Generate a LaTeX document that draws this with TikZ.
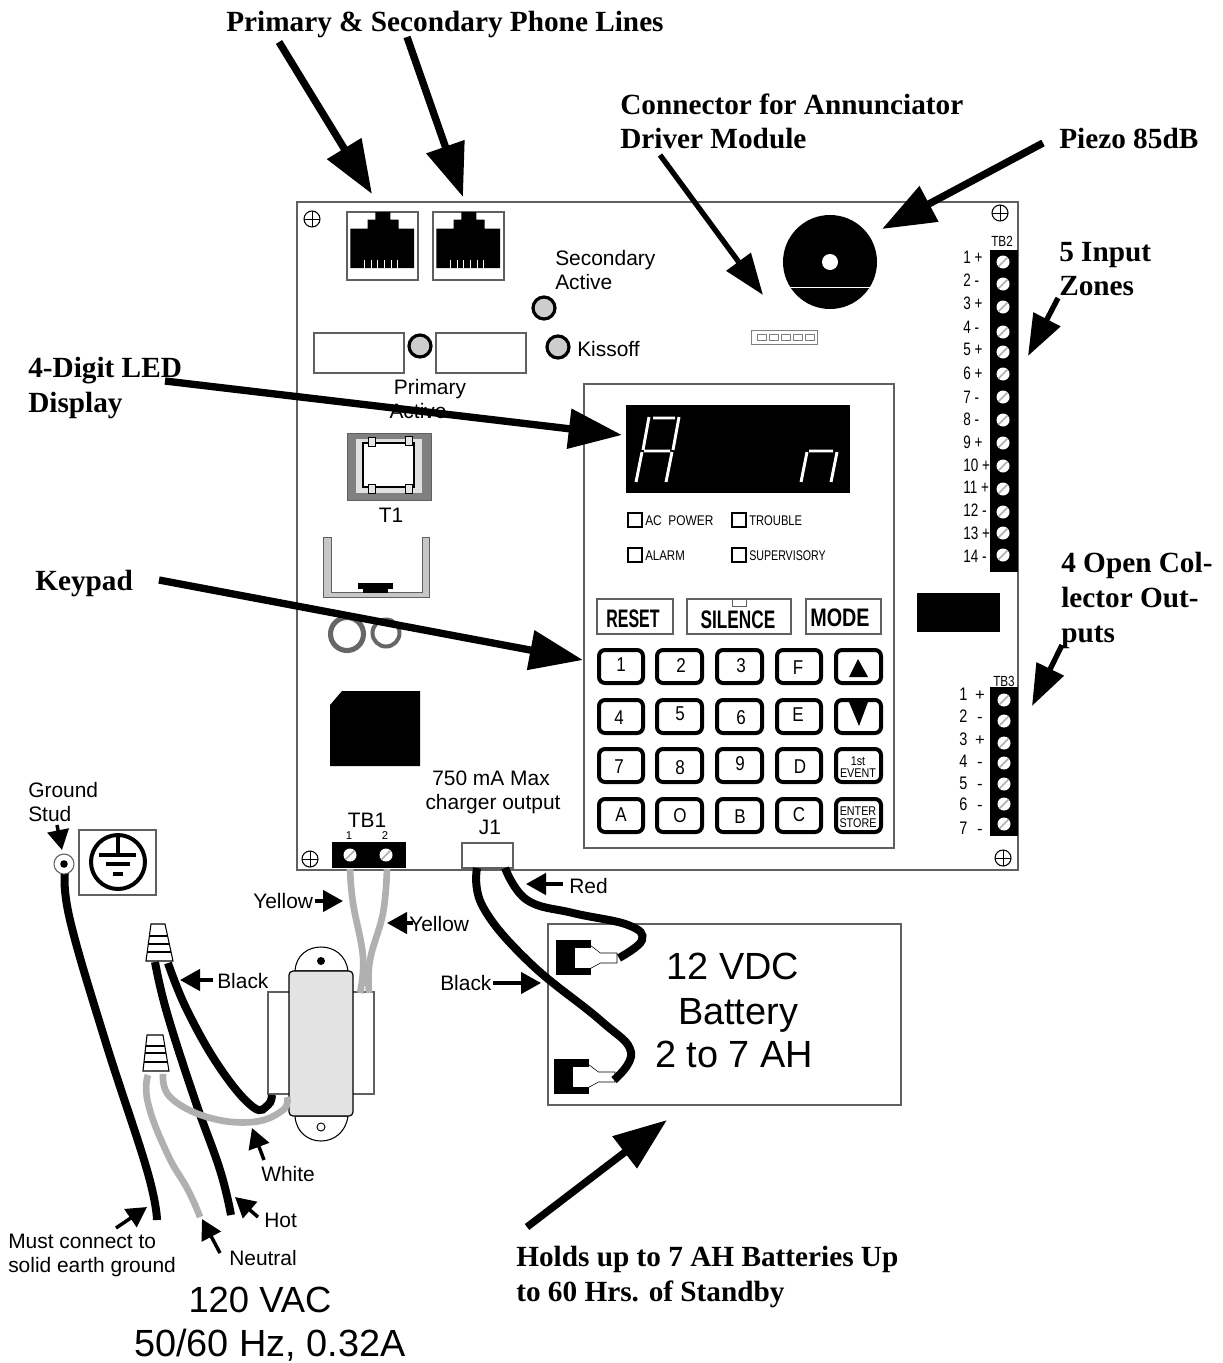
\documentclass[tikz,border=0pt]{standalone}
\usepackage{fontspec}
\usepackage{graphicx}
\setmainfont{Liberation Sans}
\newfontfamily\tmb{Liberation Serif}
\usetikzlibrary{arrows.meta,calc}
\definecolor{ln}{HTML}{606060}
\definecolor{wiregray}{HTML}{B0B0B0}
\definecolor{ledgray}{HTML}{CDCDCD}
\tikzset{
 tl/.style={font=\tmb\bfseries\fontsize{21.95}{26}\selectfont,anchor=base west,inner sep=0pt},
 sl/.style={font=\fontsize{15.7}{19}\selectfont,anchor=base west,inner sep=0pt},
 sc/.style={font=\fontsize{15.7}{19}\selectfont,anchor=base,inner sep=0pt},
 bigl/.style={font=\fontsize{28.4}{34}\selectfont,anchor=base,inner sep=0pt},
 tiny/.style={font=\fontsize{8.5}{10}\selectfont,anchor=base,inner sep=0pt},
 keyl/.style={font=\fontsize{15}{18}\selectfont,anchor=center,inner sep=0pt},
 bar/.style={line width=.85pt,draw=ln,fill=white},
 bigarrow/.style={line width=5.5pt,-{Triangle[length=40pt,width=29pt]}},
 midarrow/.style={line width=4pt,-{Triangle[length=31pt,width=22pt]}},
 smallarrow/.style={line width=2.6pt,-{Triangle[length=15pt,width=16pt]}},
 blackwire/.style={line width=6pt,black},
 graywire/.style={line width=5pt,wiregray},
 keybox/.style={line width=3pt,draw=black,rounded corners=4.5pt,fill=white},
 led/.style={line width=2.4pt,draw=black,fill=ledgray},
 seg/.style={line width=2.2pt,white},
}
\newcommand{\conn}[4]{\coordinate (#1-a) at (#2);\coordinate (#1-b) at (#3);\draw[#4] (#1-a) -- (#1-b);}
\newcommand{\cross}[2]{\draw[line width=.8pt,black] (#1,#2) circle (8);\draw[line width=.7pt,black] (#1-8,#2) -- (#1+8,#2) (#1,#2-8) -- (#1,#2+8);}
\newcommand{\screw}[2]{\fill[white] (#1,#2) circle (6.5);\draw[line width=1.2pt,wiregray] (#1-4.5,#2+4.5) -- (#1+4.5,#2-4.5);}
\newcommand{\jack}[2]{\begin{scope}[shift={(#1,#2)}]
 \draw[bar] (0,0) rectangle (71,68);
 \fill[black] (3.3,56) -- (3.3,16.7) -- (20.7,16.7) -- (20.7,7.7) -- (28.3,7.7) -- (28.3,0) -- (43.3,0) -- (43.3,7.7) -- (51.7,7.7) -- (51.7,16.7) -- (67,16.7) -- (67,56) -- cycle;
 \foreach \q in {17.3,24,30.7,37.3,44,50.7}{\draw[line width=.6pt,white] (\q,48) -- (\q,56);}
\end{scope}}
\newcommand{\cone}[9]{\draw[line width=.8pt,black,fill=white] (#1,#2) -- (#3,#2) -- (#4,#5) -- (#6,#5) -- cycle;
 \foreach \s in {#7,#8,#9}{\draw[line width=.8pt,black] ({#1-(#1-#6)*(\s-#2)/(#5-#2)},\s) -- ({#3+(#4-#3)*(\s-#2)/(#5-#2)},\s);}}
\newcommand{\terminal}[2]{\begin{scope}[shift={(#1,#2)}]
 \fill[black] (0,0) rectangle (35,35);
 \draw[line width=.7pt,black,fill=white] (35,6) -- (44,13) -- (61,13) -- (61,23) -- (44,23) -- (35,28);
 \fill[white] (19,8) rectangle (35.3,28);
 \fill[white] (35,6.4) -- (44,13.3) -- (44,22.7) -- (35,27.6) -- cycle;
\end{scope}}
\begin{document}
\begin{tikzpicture}[x=0.75pt,y=-0.75pt]
\useasboundingbox (0,0) rectangle (1223,1363);
\fill[white] (0,0) rectangle (1223,1363);
% board
\draw[line width=1pt,draw=ln] (297,202) rectangle (1018,870);
\cross{312}{219}\cross{1000}{213}\cross{310}{859}\cross{1003}{858}
\jack{347}{212}\jack{433}{212}
\draw[bar] (314,333) rectangle (404,373);
\draw[bar] (436,333) rectangle (526,373);
\draw[led] (544,308) circle (11);
\draw[led] (420,346) circle (11);
\draw[led] (558,347) circle (11);
\node[sl] (sec1) at (555,265) {Secondary};
\node[sl] (sec2) at (555,289) {Active};
\node[sl] (kiss) at (577,356) {Kissoff};
\node[sc] (prim1) at (430,394) {Primary};
\node[sc] (prim2) at (418,418) {Active};
% T1
\fill[black!50,draw=ln] (347,433) rectangle (431,500);
\fill[black!12] (356,439) rectangle (422,493);
\draw[line width=.8pt,black,fill=white] (363,443) rectangle (414,487);
\foreach \a/\b in {368/437,405/436,368/484,405/484}{\draw[line width=.6pt,black,fill=black!10] (\a,\b) rectangle (\a+7,\b+9);}
\node[sc] (t1) at (391,522) {T1};
% holder
\fill[black!22,draw=ln,line width=.7pt] (323,537) -- (331,537) -- (331,592) -- (422,592) -- (422,537) -- (429,537) -- (429,597) -- (323,597) -- cycle;
\draw[line width=.6pt,fill=white,black] (363,589) rectangle (387,592);
\fill[black] (358,583) rectangle (393,589);
\draw[line width=3.8pt,black!60] (347,634) circle (16.5);
\draw[line width=3pt,black!60] (386,633) circle (13.5);
\fill[black] (342,691) -- (420,691) -- (420,766) -- (330,766) -- (330,705) -- cycle;
% TB1, J1
\fill[black] (332,842) rectangle (406,868);
\screw{350}{855}\screw{386}{855}
\node[sc] (tb1) at (367,827) {TB1};
\node[tiny] (tb1a) at (349,839) {1};
\node[tiny] (tb1b) at (385,839) {2};
\draw[bar] (462,843) rectangle (513,868);
\node[sc] (ch1) at (491,785) {750 mA Max};
\node[sc] (ch2) at (493,809) {charger output};
\node[sc] (j1) at (490,834) {J1};
% piezo
\fill[black] (830,262) circle (47);
\fill[white] (830,262) circle (8);
\draw[line width=.6pt,white] (788,287) -- (872,287);
% annunciator connector
\draw[line width=.6pt,black!50] (751,330) rectangle (817,344);
\foreach \q in {757,769,781,793,805}{\draw[line width=.5pt,black!50] (\q,334) rectangle (\q+9,340);}
% black block
\fill[black] (917,593) rectangle (1000,632);
% TB2
\fill[black] (990,250) rectangle (1018,572);
\node[font=\fontsize{11}{13}\selectfont,anchor=base,inner sep=0pt] (tb2) at (1002,246) {\scalebox{.8}[1]{TB2}};
\foreach \y/\z/\t [count=\n] in {262/263/1 +,284/286/2 -,307/309/3 +,332/333/4 -,352/355/5 +,374/379/6 +,397/403/7 -,420/425/8 -,443/448/9 +,466/471/10 +,489/493/11 +,512/516/12 -,533/539/13 +,555/562/14 -}{
 \screw{1003}{\y}
 \node[font=\fontsize{13.5}{16}\selectfont,anchor=base west,inner sep=0pt] (tbii\n) at (963,\z) {\scalebox{.75}[1]{\t}};
}
% TB3
\fill[black] (990,687) rectangle (1018,836);
\node[font=\fontsize{11}{13}\selectfont,anchor=base,inner sep=0pt] (tb3) at (1004,686) {\scalebox{.8}[1]{TB3}};
\foreach \y/\z/\t/\u [count=\n] in {700/700/1/+,721/722/2/-,743/745/3/+,763/767/4/-,784/789/5/-,804/810/6/-,824/834/7/-}{
 \screw{1004}{\y}
 \node[font=\fontsize{13.6}{16}\selectfont,anchor=base west,inner sep=0pt] (tbiiia\n) at (959,\z) {\scalebox{.8}[1]{\t}};
 \node[font=\fontsize{12.5}{15}\selectfont,anchor=base,inner sep=0pt] (tbiiib\n) at (980,\z) {\u};
}
% panel
\draw[line width=1pt,draw=ln] (584,384) rectangle (894,848);
\fill[black] (626,405) rectangle (850,493);
\draw[seg] (653,418) -- (675,418) (649,417) -- (643,450) (642,452) -- (636,482) (679,417) -- (673,450) (672,452) -- (666,482) (644,451) -- (670,451);
\draw[seg] (809,451) -- (833,451) (807,452) -- (801,482) (837,452) -- (831,482);
\foreach \x/\y in {628/513,732/513,628/548,732/548}{\draw[line width=.8pt,black] (\x,\y) rectangle (\x+14,\y+14);}
\node[font=\fontsize{10.5}{13}\selectfont,anchor=base west,inner sep=0pt] (ind1) at (645,525) {\scalebox{.85}[1]{AC\ \ POWER}};
\node[font=\fontsize{10.5}{13}\selectfont,anchor=base west,inner sep=0pt] (ind2) at (749,525) {\scalebox{.8}[1]{TROUBLE}};
\node[font=\fontsize{10.5}{13}\selectfont,anchor=base west,inner sep=0pt] (ind3) at (645,560) {\scalebox{.82}[1]{ALARM}};
\node[font=\fontsize{10.5}{13}\selectfont,anchor=base west,inner sep=0pt] (ind4) at (749,560) {\scalebox{.76}[1]{SUPERVISORY}};
\draw[bar] (597,599) rectangle (673,634);
\draw[bar] (687,599) rectangle (791,634);
\draw[bar] (806,599) rectangle (881,634);
\draw[line width=.7pt,draw=ln] (732,599) rectangle (746,606);
\node[font=\bfseries\fontsize{19}{22}\selectfont,inner sep=0pt] (btn1) at (633,619) {\scalebox{.63}[1]{RESET}};
\node[font=\bfseries\fontsize{19}{22}\selectfont,inner sep=0pt] (btn2) at (738,620) {\scalebox{.68}[1]{SILENCE}};
\node[font=\bfseries\fontsize{19}{22}\selectfont,inner sep=0pt] (btn3) at (840,618) {\scalebox{.78}[1]{MODE}};
\foreach \a/\b [count=\c] in {597/645,655/704,715/764,775/823,834/883}{
 \foreach \d/\e [count=\f] in {648/685,698/735,747/784,797/834}{
  \draw[keybox] (\a+2,\d+2) rectangle (\b-2,\e-2);
 }
}
\foreach \t/\x/\y [count=\n] in {1/621/665,2/681/666,3/741/666,F/798/668,4/619/718,5/680/714,6/741/718,E/798/715,7/619/767,8/680/768,9/740/764,D/800/767,A/621/815,O/680/816,B/740/817,C/799/815}{
 \node[keyl] (key\n) at (\x,\y) {\scalebox{.85}[1]{\t}};
}
\fill[black] (858,659) -- (868,677) -- (849,677) -- cycle;
\fill[black] (849,702) -- (868,702) -- (859,726) -- cycle;
\node[font=\fontsize{9.5}{11}\selectfont,inner sep=0pt] (ev1) at (858,761) {\scalebox{.85}[1]{1st}};
\node[font=\fontsize{9.5}{11}\selectfont,inner sep=0pt] (ev2) at (858,773) {\scalebox{.85}[1]{EVENT}};
\node[font=\fontsize{9.5}{11}\selectfont,inner sep=0pt] (en1) at (858,811) {\scalebox{.85}[1]{ENTER}};
\node[font=\fontsize{9.5}{11}\selectfont,inner sep=0pt] (en2) at (858,823) {\scalebox{.85}[1]{STORE}};
% ground
\draw[line width=.8pt,draw=ln] (79,830) rectangle (156,895);
\draw[line width=3pt,black] (118,862) circle (27);
\draw[line width=3pt,black] (118,836) -- (118,855);
\draw[line width=3pt,black] (99,855) -- (136,855) (106,864) -- (130,864) (113,874) -- (123,874);
\node[sl] (gs1) at (28,797) {Ground};
\node[sl] (gs2) at (28,821) {Stud};
% wires
\draw[blackwire] plot[smooth,tension=.7] coordinates {(65,872) (70,920) (105,1040) (147,1170) (157,1220)};
\draw[line width=.8pt,draw=ln,fill=white] (64,864) circle (10);
\fill[black] (64,864) circle (3.8);
\draw[graywire] plot[smooth,tension=.8] coordinates {(148,1075) (148,1103) (167,1153) (188,1190) (200,1217)};
\draw[blackwire] plot[smooth,tension=.7] coordinates {(155,962) (167,1013) (195,1100) (220,1170) (231,1215)};
% transformer
\draw[line width=.8pt,draw=ln,fill=white] (268,992) rectangle (374,1094);
\draw[line width=.8pt,black,fill=white] (295,971) .. controls (296,955) and (308,947) .. (321,947) .. controls (334,947) and (346,955) .. (348,971) -- cycle;
\draw[line width=.8pt,black,fill=white] (295,1116) .. controls (296,1132) and (308,1141) .. (321,1141) .. controls (334,1141) and (346,1132) .. (348,1116) -- cycle;
\fill[black] (321,961) circle (4);
\draw[line width=.7pt,black,fill=white] (321,1127) circle (4);
\draw[line width=.9pt,black,fill=black!11,rounded corners=3pt] (289,971) rectangle (353,1116);
\draw[graywire] plot[smooth,tension=.7] coordinates {(350,869) (353,903) (363,957) (360,993)};
\draw[graywire] plot[smooth,tension=.7] coordinates {(387,869) (383,913) (370,960) (369,993)};
\draw[graywire] plot[smooth,tension=.7] coordinates {(163,1074) (170,1097) (207,1117) (253,1122) (283,1110) (287,1097)};
\draw[blackwire] plot[smooth,tension=.7] coordinates {(168,963) (187,1010) (220,1068) (253,1107) (268,1105) (272,1095)};
\cone{151}{924}{165}{173}{961}{146}{936}{944}{952}
\cone{147}{1035}{163}{169}{1071}{143}{1046}{1053}{1062}
% battery
\draw[line width=.8pt,draw=ln] (548,924) rectangle (901,1105);
\terminal{556}{940}
\terminal{554}{1059}
\draw[blackwire] plot[smooth,tension=.7] coordinates {(477,868) (483,907) (530,963) (600,1020) (631,1052) (614,1080)};
\draw[blackwire] plot[smooth,tension=.7] coordinates {(505,868) (527,900) (573,913) (628,925) (642,940) (619,958)};
\node[bigl] (bat1) at (733,979) {12 VDC};
\node[bigl] (bat2) at (738,1024) {Battery};
\node[bigl] (bat3) at (734,1067) {2 to 7 AH};
\node[bigl,font=\fontsize{27.3}{33}\selectfont] (vac1) at (260,1312) {120 VAC};
\node[bigl] (vac2) at (270,1356) {50/60 Hz, 0.32A};
% small labels
\node[sl] (ly1) at (253,908) {Yellow};
\node[sl] (ly2) at (409,931) {Yellow};
\node[sl] (lb1) at (217,988) {Black};
\node[sl] (lb2) at (440,990) {Black};
\node[sl] (lr) at (569,893) {Red};
\node[sl] (lw) at (261,1181) {White};
\node[sl] (lh) at (264,1227) {Hot};
\node[sl] (ln) at (229,1265) {Neutral};
\node[sl] (lm1) at (8,1248) {Must connect to};
\node[sl] (lm2) at (8,1272) {solid earth ground};
% bold labels
\node[tl] (t1a) at (226,32) {Primary \& Secondary Phone Lines};
\node[tl] (t2a) at (620,114) {Connector for Annunciator};
\node[tl] (t2b) at (620,148) {Driver Module};
\node[tl] (t3) at (1059,148) {Piezo 85dB};
\node[tl] (t4a) at (1059,261) {5 Input};
\node[tl] (t4b) at (1059,295) {Zones};
\node[tl] (t5a) at (28,377) {4-Digit LED};
\node[tl] (t5b) at (28,412) {Display};
\node[tl] (t6) at (35,590) {Keypad};
\node[tl] (t7a) at (1061,572) {4 Open Col-};
\node[tl] (t7b) at (1061,607) {lector Out-};
\node[tl] (t7c) at (1061,642) {puts};
\node[tl] (t8a) at (516,1266) {Holds up to 7 AH Batteries Up};
\node[tl] (t8b) at (516,1301) {to 60 Hrs. of Standby};
% arrows
\conn{a1}{279,42}{372,194}{bigarrow}
\conn{a2}{407,37}{463,197}{bigarrow}
\conn{a3}{660,155}{763,295}{midarrow}
\conn{a4}{1043,143}{882,229}{bigarrow}
\conn{a5}{1058,298}{1028,356}{midarrow}
\conn{a6}{165,381}{622,435}{bigarrow}
\conn{a7}{159,580}{583,660}{bigarrow}
\conn{a8}{1062,645}{1032,706}{midarrow}
\conn{a9}{527,1227}{667,1120}{bigarrow}
\conn{s1}{57,825}{62,850}{smallarrow}
\conn{s2}{315,901}{343,901}{smallarrow}
\conn{s3}{413,923}{387,923}{smallarrow}
\conn{s4}{213,980}{180,980}{smallarrow}
\conn{s5}{264,1160}{252,1128}{smallarrow}
\conn{s6}{563,884}{526,884}{smallarrow}
\conn{s7}{493,983}{541,983}{smallarrow}
\conn{s8}{116,1228}{147,1207}{smallarrow}
\conn{s9}{258,1217}{235,1197}{smallarrow}
\conn{s10}{220,1253}{202,1219}{smallarrow}
\end{tikzpicture}
\end{document}
